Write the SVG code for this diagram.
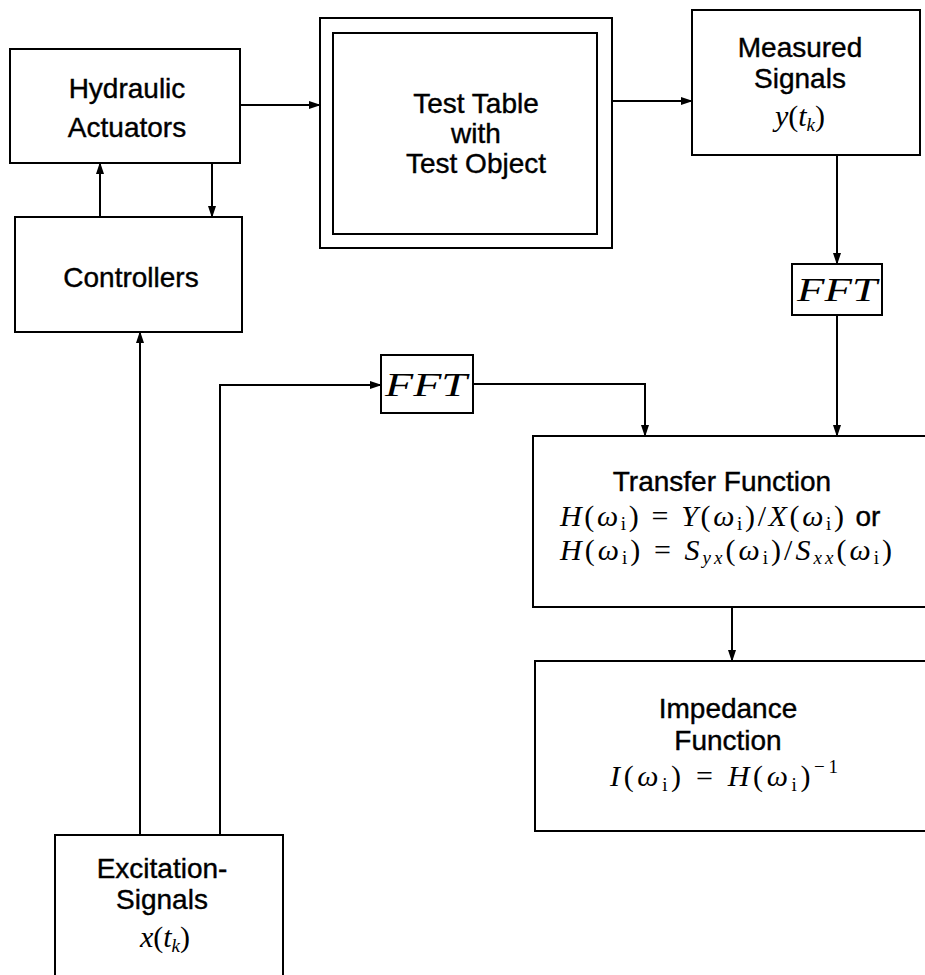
<svg xmlns="http://www.w3.org/2000/svg" width="925" height="975" viewBox="0 0 925 975">
<defs>
<marker id="arr" markerUnits="userSpaceOnUse" markerWidth="12" markerHeight="8" refX="11" refY="4" orient="auto">
<path d="M0,0 L12,4 L0,8 z" fill="#000"/>
</marker>
<style>
.box{fill:#fff;stroke:#000;stroke-width:2}
.lbl{font-family:"Liberation Sans",Arial,sans-serif;font-size:28px;fill:#000;stroke:#000;stroke-width:0.4;text-anchor:middle}
.m{font-family:"Liberation Serif","Times New Roman",serif;font-size:30px;fill:#000}
.i{font-style:italic}
.s{font-size:19px}
.fft{font-family:"Liberation Serif","Times New Roman",serif;font-style:italic;font-size:33px;fill:#000}
.con{fill:none;stroke:#000;stroke-width:2}
</style>
</defs>
<rect width="925" height="975" fill="#fff"/>

<g id="connectors">
<path class="con" d="M240,105 H320" marker-end="url(#arr)"/>
<path class="con" d="M612,101 H692" marker-end="url(#arr)"/>
<path class="con" d="M100,217 V163" marker-end="url(#arr)"/>
<path class="con" d="M212,163 V217" marker-end="url(#arr)"/>
<path class="con" d="M837,155 V264" marker-end="url(#arr)"/>
<path class="con" d="M837,315 V436" marker-end="url(#arr)"/>
<path class="con" d="M140,835 V332" marker-end="url(#arr)"/>
<path class="con" d="M220,835 V385 H381" marker-end="url(#arr)"/>
<path class="con" d="M473,384 H645 V436" marker-end="url(#arr)"/>
<path class="con" d="M732,607 V661" marker-end="url(#arr)"/>
</g>

<g id="hydraulic">
<rect class="box" x="10" y="49" width="230" height="114"/>
<text class="lbl" x="127" y="98">Hydraulic</text>
<text class="lbl" x="127" y="137">Actuators</text>
</g>

<g id="controllers">
<rect class="box" x="15" y="217" width="227" height="115"/>
<text class="lbl" x="131" y="287">Controllers</text>
</g>

<g id="testtable">
<rect class="box" x="320" y="18" width="292" height="230"/>
<rect class="box" x="333" y="33" width="264" height="201"/>
<text class="lbl" x="476" y="113">Test Table</text>
<text class="lbl" x="476" y="143">with</text>
<text class="lbl" x="476" y="173">Test Object</text>
</g>

<g id="measured">
<rect class="box" x="692" y="10" width="228" height="145"/>
<text class="lbl" x="800" y="57">Measured</text>
<text class="lbl" x="800" y="88">Signals</text>
<text class="m" x="800" y="126" text-anchor="middle"><tspan class="i">y</tspan>(<tspan class="i">t</tspan><tspan class="i s" dy="5">k</tspan><tspan dy="-5">)</tspan></text>
</g>

<g id="fft-right">
<rect class="box" x="792" y="264" width="90" height="51"/>
<text class="fft" x="797" y="301" textLength="80" lengthAdjust="spacingAndGlyphs">FFT</text>
</g>

<g id="fft-left">
<rect class="box" x="381" y="355" width="92" height="58"/>
<text class="fft" x="385" y="396" textLength="82" lengthAdjust="spacingAndGlyphs">FFT</text>
</g>

<g id="transfer">
<rect class="box" x="533" y="436" width="400" height="171"/>
<text class="lbl" x="722" y="491">Transfer Function</text>
<text class="m" x="560" y="526" font-size="29" textLength="284" lengthAdjust="spacing"><tspan class="i">H</tspan>(<tspan class="i">ω</tspan><tspan class="s" dy="4">i</tspan><tspan dy="-4">) = </tspan><tspan class="i">Y</tspan>(<tspan class="i">ω</tspan><tspan class="s" dy="4">i</tspan><tspan dy="-4">)/</tspan><tspan class="i">X</tspan>(<tspan class="i">ω</tspan><tspan class="s" dy="4">i</tspan><tspan dy="-4">)</tspan></text>
<text class="lbl" x="868" y="526">or</text>
<text class="m" x="560" y="560" font-size="29" textLength="332" lengthAdjust="spacing"><tspan class="i">H</tspan>(<tspan class="i">ω</tspan><tspan class="s" dy="4">i</tspan><tspan dy="-4">) = </tspan><tspan class="i">S</tspan><tspan class="i s" dy="4">yx</tspan><tspan dy="-4">(</tspan><tspan class="i">ω</tspan><tspan class="s" dy="4">i</tspan><tspan dy="-4">)/</tspan><tspan class="i">S</tspan><tspan class="i s" dy="4">xx</tspan><tspan dy="-4">(</tspan><tspan class="i">ω</tspan><tspan class="s" dy="4">i</tspan><tspan dy="-4">)</tspan></text>
</g>

<g id="impedance">
<rect class="box" x="535" y="661" width="400" height="170"/>
<text class="lbl" x="728" y="718">Impedance</text>
<text class="lbl" x="728" y="750">Function</text>
<text class="m" x="610" y="786" font-size="32" textLength="228" lengthAdjust="spacing"><tspan class="i">I</tspan>(<tspan class="i">ω</tspan><tspan class="s" dy="5">i</tspan><tspan dy="-5">) = </tspan><tspan class="i">H</tspan>(<tspan class="i">ω</tspan><tspan class="s" dy="5">i</tspan><tspan dy="-5">)</tspan><tspan class="s" dy="-13">−1</tspan></text>
</g>

<g id="excitation">
<rect class="box" x="55" y="835" width="228" height="160"/>
<text class="lbl" x="162" y="878">Excitation-</text>
<text class="lbl" x="162" y="909">Signals</text>
<text class="m" x="165" y="947" text-anchor="middle"><tspan class="i">x</tspan>(<tspan class="i">t</tspan><tspan class="i s" dy="5">k</tspan><tspan dy="-5">)</tspan></text>
</g>
</svg>
